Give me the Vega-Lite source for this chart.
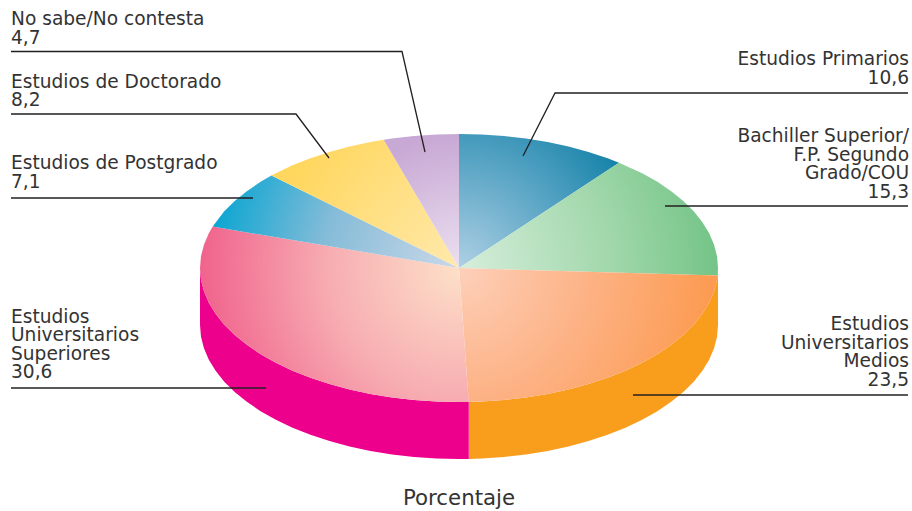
{"$schema":"https://vega.github.io/schema/vega-lite/v6.json","width":912,"height":511,"padding":0,"autosize":{"type":"fit","contains":"padding"},"background":"white","config":{"view":{"stroke":null}},
"encoding":{"x":{"field":"x","type":"quantitative","axis":null,"scale":{"domain":[-1.7722,1.749],"nice":false,"zero":false}},"y":{"field":"y","type":"quantitative","axis":null,"scale":{"domain":[-1.8134,2],"nice":false,"zero":false}}},
"layer":[
{"data":{"values":[{"x":1,"y":0,"y2":-0.4254},{"x":0.9962,"y":-0.0872,"y2":-0.5126},{"x":0.9848,"y":-0.1736,"y2":-0.599},{"x":0.9659,"y":-0.2588,"y2":-0.6842},{"x":0.9397,"y":-0.342,"y2":-0.7674},{"x":0.9063,"y":-0.4226,"y2":-0.848},{"x":0.866,"y":-0.5,"y2":-0.9254},{"x":0.8192,"y":-0.5736,"y2":-0.999},{"x":0.766,"y":-0.6428,"y2":-1.0682},{"x":0.7071,"y":-0.7071,"y2":-1.1325},{"x":0.6428,"y":-0.766,"y2":-1.1914},{"x":0.5736,"y":-0.8192,"y2":-1.2446},{"x":0.5,"y":-0.866,"y2":-1.2914},{"x":0.4226,"y":-0.9063,"y2":-1.3317},{"x":0.342,"y":-0.9397,"y2":-1.3651},{"x":0.2588,"y":-0.9659,"y2":-1.3913},{"x":0.1736,"y":-0.9848,"y2":-1.4102},{"x":0.0872,"y":-0.9962,"y2":-1.4216},{"x":0.0377,"y":-0.9993,"y2":-1.4247}]},"mark":{"type":"area","color":"#f99d1c"},"encoding":{"y2":{"field":"y2"}}},
{"data":{"values":[{"x":0.0377,"y":-0.9993,"y2":-1.4247},{"x":0,"y":-1,"y2":-1.4254},{"x":-0.0872,"y":-0.9962,"y2":-1.4216},{"x":-0.1736,"y":-0.9848,"y2":-1.4102},{"x":-0.2588,"y":-0.9659,"y2":-1.3913},{"x":-0.342,"y":-0.9397,"y2":-1.3651},{"x":-0.4226,"y":-0.9063,"y2":-1.3317},{"x":-0.5,"y":-0.866,"y2":-1.2914},{"x":-0.5736,"y":-0.8192,"y2":-1.2446},{"x":-0.6428,"y":-0.766,"y2":-1.1914},{"x":-0.7071,"y":-0.7071,"y2":-1.1325},{"x":-0.766,"y":-0.6428,"y2":-1.0682},{"x":-0.8192,"y":-0.5736,"y2":-0.999},{"x":-0.866,"y":-0.5,"y2":-0.9254},{"x":-0.9063,"y":-0.4226,"y2":-0.848},{"x":-0.9397,"y":-0.342,"y2":-0.7674},{"x":-0.9659,"y":-0.2588,"y2":-0.6842},{"x":-0.9848,"y":-0.1736,"y2":-0.599},{"x":-0.9962,"y":-0.0872,"y2":-0.5126},{"x":-1,"y":0,"y2":-0.4254}]},"mark":{"type":"area","color":"#ec008c"},"encoding":{"y2":{"field":"y2"}}},
{"data":{"values":[{"i":0,"x":0,"y":0},{"i":1,"x":0,"y":1},{"i":2,"x":0.0872,"y":0.9962},{"i":3,"x":0.1736,"y":0.9848},{"i":4,"x":0.2588,"y":0.9659},{"i":5,"x":0.342,"y":0.9397},{"i":6,"x":0.4226,"y":0.9063},{"i":7,"x":0.5,"y":0.866},{"i":8,"x":0.5736,"y":0.8192},{"i":9,"x":0.6178,"y":0.7863}]},"mark":{"type":"line","interpolate":"linear-closed","strokeWidth":0,"fill":{"gradient":"radial","x1":0,"y1":0.919,"r1":0,"x2":0,"y2":0.919,"r2":1.2,"stops":[{"offset":0,"color":"#aed0e4"},{"offset":0.55,"color":"#5aa5c5"},{"offset":1,"color":"#1482a8"}]}},"encoding":{"order":{"field":"i"}}},
{"data":{"values":[{"i":0,"x":0,"y":0},{"i":1,"x":0.6178,"y":0.7863},{"i":2,"x":0.7071,"y":0.7071},{"i":3,"x":0.766,"y":0.6428},{"i":4,"x":0.8192,"y":0.5736},{"i":5,"x":0.866,"y":0.5},{"i":6,"x":0.9063,"y":0.4226},{"i":7,"x":0.9397,"y":0.342},{"i":8,"x":0.9659,"y":0.2588},{"i":9,"x":0.9848,"y":0.1736},{"i":10,"x":0.9962,"y":0.0872},{"i":11,"x":1,"y":0},{"i":12,"x":0.9984,"y":-0.0565}]},"mark":{"type":"line","interpolate":"linear-closed","strokeWidth":0,"fill":{"gradient":"radial","x1":0,"y1":0.689,"r1":0,"x2":0,"y2":0.689,"r2":1,"stops":[{"offset":0,"color":"#d6eedb"},{"offset":0.6,"color":"#a0d7aa"},{"offset":1,"color":"#74c487"}]}},"encoding":{"order":{"field":"i"}}},
{"data":{"values":[{"i":0,"x":0,"y":0},{"i":1,"x":0.9984,"y":-0.0565},{"i":2,"x":0.9962,"y":-0.0872},{"i":3,"x":0.9848,"y":-0.1736},{"i":4,"x":0.9659,"y":-0.2588},{"i":5,"x":0.9397,"y":-0.342},{"i":6,"x":0.9063,"y":-0.4226},{"i":7,"x":0.866,"y":-0.5},{"i":8,"x":0.8192,"y":-0.5736},{"i":9,"x":0.766,"y":-0.6428},{"i":10,"x":0.7071,"y":-0.7071},{"i":11,"x":0.6428,"y":-0.766},{"i":12,"x":0.5736,"y":-0.8192},{"i":13,"x":0.5,"y":-0.866},{"i":14,"x":0.4226,"y":-0.9063},{"i":15,"x":0.342,"y":-0.9397},{"i":16,"x":0.2588,"y":-0.9659},{"i":17,"x":0.1736,"y":-0.9848},{"i":18,"x":0.0872,"y":-0.9962},{"i":19,"x":0.0377,"y":-0.9993}]},"mark":{"type":"line","interpolate":"linear-closed","strokeWidth":0,"fill":{"gradient":"radial","x1":0,"y1":0.24,"r1":0,"x2":0,"y2":0.24,"r2":1,"stops":[{"offset":0,"color":"#fdd0ba"},{"offset":0.5,"color":"#fdb285"},{"offset":1,"color":"#fc9a50"}]}},"encoding":{"order":{"field":"i"}}},
{"data":{"values":[{"i":0,"x":0,"y":0},{"i":1,"x":0.0377,"y":-0.9993},{"i":2,"x":0,"y":-1},{"i":3,"x":-0.0872,"y":-0.9962},{"i":4,"x":-0.1736,"y":-0.9848},{"i":5,"x":-0.2588,"y":-0.9659},{"i":6,"x":-0.342,"y":-0.9397},{"i":7,"x":-0.4226,"y":-0.9063},{"i":8,"x":-0.5,"y":-0.866},{"i":9,"x":-0.5736,"y":-0.8192},{"i":10,"x":-0.6428,"y":-0.766},{"i":11,"x":-0.7071,"y":-0.7071},{"i":12,"x":-0.766,"y":-0.6428},{"i":13,"x":-0.8192,"y":-0.5736},{"i":14,"x":-0.866,"y":-0.5},{"i":15,"x":-0.9063,"y":-0.4226},{"i":16,"x":-0.9397,"y":-0.342},{"i":17,"x":-0.9659,"y":-0.2588},{"i":18,"x":-0.9848,"y":-0.1736},{"i":19,"x":-0.9962,"y":-0.0872},{"i":20,"x":-1,"y":0},{"i":21,"x":-0.9962,"y":0.0872},{"i":22,"x":-0.9848,"y":0.1736},{"i":23,"x":-0.9659,"y":0.2588},{"i":24,"x":-0.9511,"y":0.309}]},"mark":{"type":"line","interpolate":"linear-closed","strokeWidth":0,"fill":{"gradient":"radial","x1":0.964,"y1":0.328,"r1":0,"x2":0.964,"y2":0.328,"r2":0.97,"stops":[{"offset":0,"color":"#fde0c8"},{"offset":0.5,"color":"#f7adb2"},{"offset":1,"color":"#f0628c"}]}},"encoding":{"order":{"field":"i"}}},
{"data":{"values":[{"i":0,"x":0,"y":0},{"i":1,"x":-0.9511,"y":0.309},{"i":2,"x":-0.9063,"y":0.4226},{"i":3,"x":-0.866,"y":0.5},{"i":4,"x":-0.8192,"y":0.5736},{"i":5,"x":-0.766,"y":0.6428},{"i":6,"x":-0.7243,"y":0.6895}]},"mark":{"type":"line","interpolate":"linear-closed","strokeWidth":0,"fill":{"gradient":"radial","x1":1,"y1":0.688,"r1":0,"x2":1,"y2":0.688,"r2":1,"stops":[{"offset":0,"color":"#cbd8e8"},{"offset":0.55,"color":"#86bcd8"},{"offset":1,"color":"#0ea6d2"}]}},"encoding":{"order":{"field":"i"}}},
{"data":{"values":[{"i":0,"x":0,"y":0},{"i":1,"x":-0.7243,"y":0.6895},{"i":2,"x":-0.7071,"y":0.7071},{"i":3,"x":-0.6428,"y":0.766},{"i":4,"x":-0.5736,"y":0.8192},{"i":5,"x":-0.5,"y":0.866},{"i":6,"x":-0.4226,"y":0.9063},{"i":7,"x":-0.342,"y":0.9397},{"i":8,"x":-0.291,"y":0.9567}]},"mark":{"type":"line","interpolate":"linear-closed","strokeWidth":0,"fill":{"gradient":"radial","x1":1,"y1":0.84,"r1":0,"x2":1,"y2":0.84,"r2":1,"stops":[{"offset":0,"color":"#ffe9ac"},{"offset":1,"color":"#ffd75f"}]}},"encoding":{"order":{"field":"i"}}},
{"data":{"values":[{"i":0,"x":0,"y":0},{"i":1,"x":-0.291,"y":0.9567},{"i":2,"x":-0.2588,"y":0.9659},{"i":3,"x":-0.1736,"y":0.9848},{"i":4,"x":-0.0872,"y":0.9962},{"i":5,"x":0,"y":1}]},"mark":{"type":"line","interpolate":"linear-closed","strokeWidth":0,"fill":{"gradient":"radial","x1":0.78,"y1":1,"r1":0,"x2":0.78,"y2":1,"r2":1,"stops":[{"offset":0,"color":"#ebe0f0"},{"offset":1,"color":"#c8a8d4"}]}},"encoding":{"order":{"field":"i"}}},
{"data":{"values":[
{"k":"a","i":0,"x":-1.7297,"y":1.6157},{"k":"a","i":1,"x":-0.2201,"y":1.6157},{"k":"a","i":2,"x":-0.1313,"y":0.8657},
{"k":"b","i":0,"x":-1.7297,"y":1.1493},{"k":"b","i":1,"x":-0.6293,"y":1.1493},{"k":"b","i":2,"x":-0.5019,"y":0.8209},
{"k":"c","i":0,"x":-1.7297,"y":0.5224},{"k":"c","i":1,"x":-0.7954,"y":0.5224},
{"k":"d","i":0,"x":-1.7297,"y":-0.8955},{"k":"d","i":1,"x":-0.7452,"y":-0.8955},
{"k":"e","i":0,"x":1.7336,"y":1.306},{"k":"e","i":1,"x":0.3707,"y":1.306},{"k":"e","i":2,"x":0.2471,"y":0.8358},
{"k":"f","i":0,"x":1.7336,"y":0.4627},{"k":"f","i":1,"x":0.7954,"y":0.4627},
{"k":"g","i":0,"x":1.7336,"y":-0.9478},{"k":"g","i":1,"x":0.6718,"y":-0.9478}]},
"mark":{"type":"line","color":"#231f20","strokeWidth":1.3},"encoding":{"detail":{"field":"k"},"order":{"field":"i"}}},
{"data":{"values":[
{"t":"No sabe/No contesta","x":-1.7297,"y":1.8134},{"t":"4,7","x":-1.7297,"y":1.6716},
{"t":"Estudios de Doctorado","x":-1.7297,"y":1.3433},{"t":"8,2","x":-1.7297,"y":1.209},
{"t":"Estudios de Postgrado","x":-1.7297,"y":0.7388},{"t":"7,1","x":-1.7297,"y":0.597},
{"t":"Estudios","x":-1.7297,"y":-0.4104},{"t":"Universitarios","x":-1.7297,"y":-0.5448},{"t":"Superiores","x":-1.7297,"y":-0.6866},{"t":"30,6","x":-1.7297,"y":-0.8209}]},
"mark":{"type":"text","align":"left","baseline":"alphabetic","font":"DejaVu Sans","fontSize":18.6,"color":"#333333"},"encoding":{"text":{"field":"t"}}},
{"data":{"values":[
{"t":"Estudios Primarios","x":1.7375,"y":1.5149},{"t":"10,6","x":1.7375,"y":1.3731},
{"t":"Bachiller Superior/","x":1.7375,"y":0.9403},{"t":"F.P. Segundo","x":1.7375,"y":0.7985},{"t":"Grado/COU","x":1.7375,"y":0.6642},{"t":"15,3","x":1.7375,"y":0.5224},
{"t":"Estudios","x":1.7375,"y":-0.4627},{"t":"Universitarios","x":1.7375,"y":-0.6045},{"t":"Medios","x":1.7375,"y":-0.7388},{"t":"23,5","x":1.7375,"y":-0.8806}]},
"mark":{"type":"text","align":"right","baseline":"alphabetic","font":"DejaVu Sans","fontSize":18.6,"color":"#333333"},"encoding":{"text":{"field":"t"}}},
{"data":{"values":[{"t":"Porcentaje","x":0,"y":-1.7687}]},"mark":{"type":"text","align":"center","baseline":"alphabetic","font":"DejaVu Sans","fontSize":21.3,"color":"#333333"},"encoding":{"text":{"field":"t"}}}
]}
